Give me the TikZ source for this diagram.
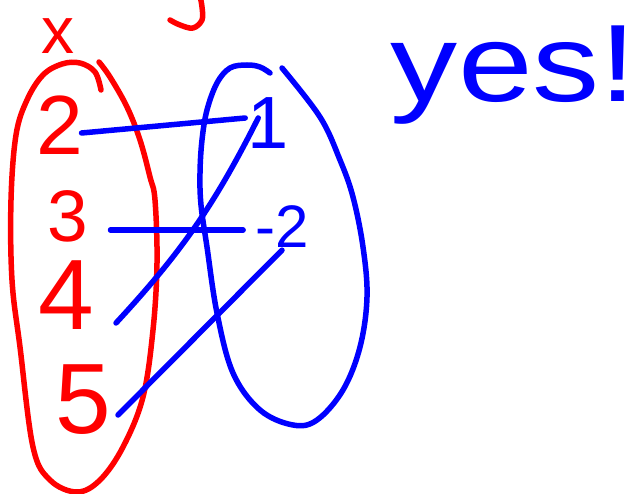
\documentclass[tikz,border=0pt]{standalone}
\usepackage{fontspec}
\setmainfont{Liberation Sans}
\usetikzlibrary{calc}
\definecolor{penred}{RGB}{255,0,0}
\definecolor{penblue}{RGB}{0,0,255}
\begin{document}
\begin{tikzpicture}[x=1pt,y=-1pt,
  redink/.style={draw=penred, line width=5.5pt, line cap=round, line join=round},
  blueink/.style={draw=penblue, line width=5.5pt, line cap=round, line join=round},
  redlabel/.style={text=penred, inner sep=0pt},
  bluelabel/.style={text=penblue, inner sep=0pt},
  fs/.style={font=\fontsize{#1}{#1}\selectfont}]
\useasboundingbox (0,0) rectangle (644,494);
% domain set (red)
\draw[redink] plot[smooth, tension=0.6] coordinates {(101,90) (95,72) (80,63) (62,64) (43,75) (27,100) (16,135) (11,200) (12,280) (20,347) (33,447) (50,480) (77,492) (100,480) (123,447) (143,397) (153,330) (157,263) (155,200) (150,177) (140,140) (127,107) (110,77) (99,62)};
% codomain set (blue)
\draw[blueink] plot[smooth, tension=0.6] coordinates {(270,73) (260,67) (247,65) (230,68) (217,83) (207,110) (202,140) (200,173) (201,205) (207,247) (217,313) (233,373) (260,410) (293,425) (317,420) (343,390) (360,347) (367,297) (363,247) (353,197) (340,160) (320,117) (282,68)};
% tail of the y label, cut by the top edge
\draw[redink] plot[smooth, tension=0.6] coordinates {(170,20) (180,25) (193,28) (202,20) (202,7) (200,-4)};
% labels
\node[redlabel, fs=66] (x) at (58,36) {x};
\node[redlabel, fs=84] (two) at (60,125) {2};
\node[redlabel, fs=73] (three) at (68,216) {3};
\node[redlabel, fs=100] (four) at (66,295) {4};
\node[redlabel, fs=100] (five) at (83,400) {5};
\node[bluelabel, fs=74] (one) at (268,123) {1};
\node[bluelabel, fs=60] (mtwo) at (282,227) {-2};
\node[bluelabel, fs=110, anchor=base] (yes) at (514,102) {\scalebox{1.22}[1]{yes!}};
% mapping
\draw[blueink] ($(two.east)+(-2,8)$) -- ($(one.west)+(-2,-5)$);
\draw[blueink] ($(three.east)+(22,14)$) -- ($(mtwo.west)+(-12,3)$);
\draw[blueink] ($(four.east)+(22,28)$) to[bend right=8] ($(one.west)+(11,-5)$);
\draw[blueink] ($(five.east)+(7,15)$) -- ($(mtwo.south)+(0,2)$);
\end{tikzpicture}
\end{document}
